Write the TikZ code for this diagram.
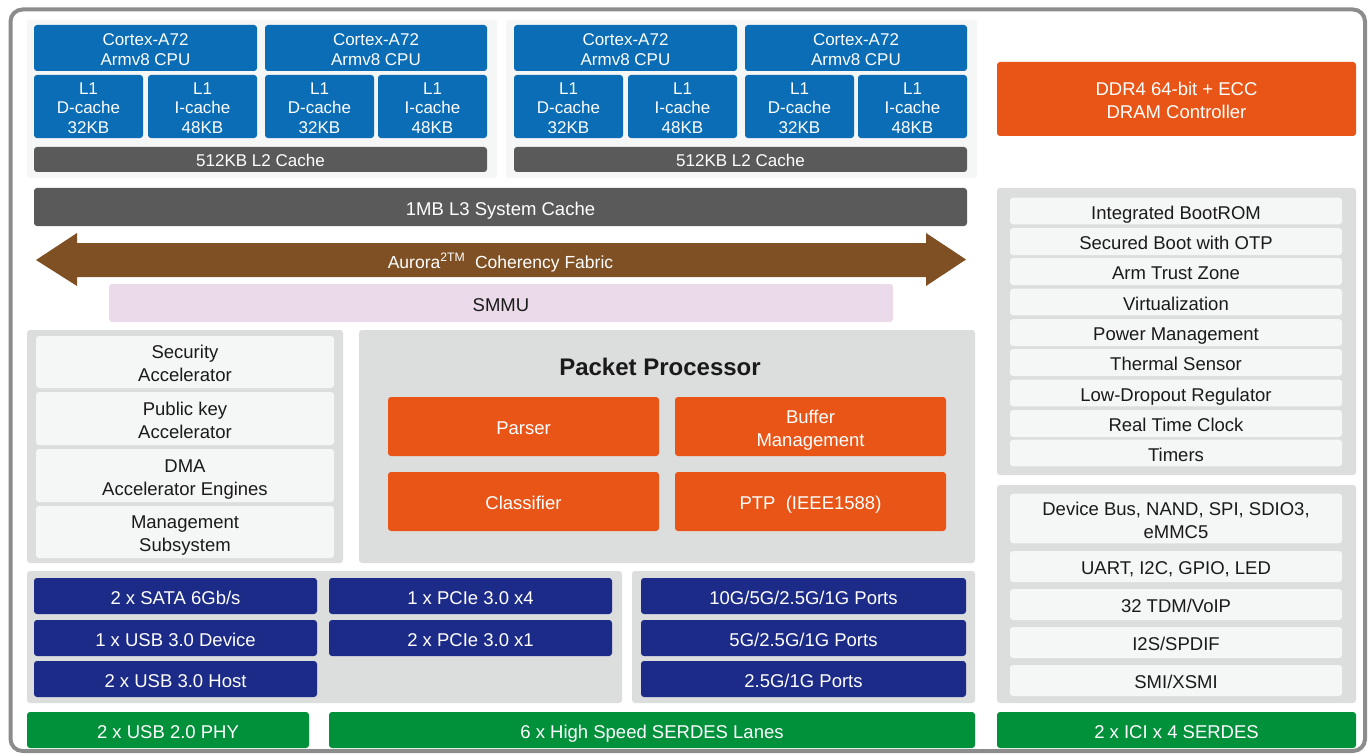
\documentclass[tikz,border=0pt]{standalone}
\usepackage{fontspec}
\setmainfont{Liberation Sans}
\definecolor{cpublue}{HTML}{0A6DB5}
\definecolor{l2gray}{HTML}{5B5A5B}
\definecolor{orng}{HTML}{E85517}
\definecolor{navy}{HTML}{1C2B88}
\definecolor{grn}{HTML}{00913A}
\definecolor{panelgray}{HTML}{DCDDDD}
\definecolor{itemwhite}{HTML}{F5F6F6}
\definecolor{brwn}{HTML}{7E5023}
\definecolor{pinkish}{HTML}{EBDAEA}
\definecolor{framegray}{HTML}{8C8C8C}
\definecolor{txt}{HTML}{1A1A1A}
\newcommand\topstrut{\rule{0pt}{1.16em}}
\newcommand\botstrut{\rule[-0.28em]{0pt}{0.28em}}
\tikzset{
  blk/.style={rounded corners=3pt, inner sep=0pt, outer sep=0pt, align=center,
    text=txt, font=\fontsize{18.5}{23}\selectfont},
  clusterbg/.style={blk, fill=itemwhite},
  cpubox/.style={blk, fill=cpublue, text=white, font=\fontsize{17}{19.3}\selectfont},
  l2box/.style={blk, fill=l2gray, text=white, font=\fontsize{17}{19.3}\selectfont},
  l3box/.style={blk, fill=l2gray, text=white},
  smmubox/.style={blk, fill=pinkish},
  panelbox/.style={blk, fill=panelgray},
  itembox/.style={blk, fill=itemwhite},
  orbox/.style={blk, fill=orng, text=white},
  navybox/.style={blk, fill=navy, text=white},
  grnbox/.style={blk, fill=grn, text=white},
}
\newcommand\bx[7]{\node[#2, minimum width={#5-#3}, minimum height={#6-#4}] (#1) at ({(#3+#5)/2},{(#4+#6)/2}) {\topstrut#7\botstrut};}
\begin{document}
\begin{tikzpicture}[x=1pt,y=-1pt]
\useasboundingbox (0,0) rectangle (1372,754);
\fill[white] (0,0) rectangle (1372,754);
\draw[framegray, line width=4pt, rounded corners=12pt] (10.5,9.5) rectangle (1365,751);
% CPU clusters
\bx{clA}{clusterbg}{27}{20}{497}{178}{}
\bx{clB}{clusterbg}{506}{20}{977}{178}{}
\bx{cpu1}{cpubox}{34}{25}{257}{71}{Cortex-A72\\Armv8 CPU}
\bx{cpu2}{cpubox}{265}{25}{487}{71}{Cortex-A72\\Armv8 CPU}
\bx{cpu3}{cpubox}{514}{25}{737}{71}{Cortex-A72\\Armv8 CPU}
\bx{cpu4}{cpubox}{745}{25}{967}{71}{Cortex-A72\\Armv8 CPU}
\bx{d1}{cpubox}{34}{75}{143}{138}{L1\\D-cache\\32KB}
\bx{i1}{cpubox}{148}{75}{257}{138}{L1\\I-cache\\48KB}
\bx{d2}{cpubox}{265}{75}{374}{138}{L1\\D-cache\\32KB}
\bx{i2}{cpubox}{378}{75}{487}{138}{L1\\I-cache\\48KB}
\bx{d3}{cpubox}{514}{75}{623}{138}{L1\\D-cache\\32KB}
\bx{i3}{cpubox}{628}{75}{737}{138}{L1\\I-cache\\48KB}
\bx{d4}{cpubox}{745}{75}{854}{138}{L1\\D-cache\\32KB}
\bx{i4}{cpubox}{858}{75}{967}{138}{L1\\I-cache\\48KB}
\bx{l2a}{l2box}{34}{147}{487}{172}{512KB L2 Cache}
\bx{l2b}{l2box}{514}{147}{967}{172}{512KB L2 Cache}
\bx{l3}{l3box}{34}{188}{967}{226}{1MB L3 System Cache}
% Fabric arrow
\fill[brwn] (36,260) -- (77,233) -- (77,243) -- (926,243) -- (926,233) -- (966,259.5)
  -- (926,286) -- (926,277) -- (77,277) -- (77,286) -- cycle;
\node[text=white, font=\fontsize{17.5}{20}\selectfont, inner sep=0pt] (fabric) at (500.5,260.5)
  {\topstrut Aurora\textsuperscript{2TM}\ \ Coherency Fabric\botstrut};
\bx{smmu}{smmubox}{109}{284}{893}{322}{SMMU}
% Left accelerators panel
\bx{accp}{panelbox}{27}{330}{343}{563}{}
\bx{sec}{itembox}{36}{336}{334}{388}{Security\\Accelerator}
\bx{pk}{itembox}{36}{392}{334}{445}{Public key\\Accelerator}
\bx{dma}{itembox}{36}{449}{334}{502}{DMA\\Accelerator Engines}
\bx{mgmt}{itembox}{36}{506}{334}{558}{Management\\Subsystem}
% Packet processor
\bx{ppp}{panelbox}{359}{330}{975}{563}{}
\node[font=\fontsize{24}{26}\selectfont\bfseries, text=txt, inner sep=0pt] (pptitle) at (660,365) {\topstrut Packet Processor\botstrut};
\bx{parser}{orbox}{388}{397}{659}{456}{Parser}
\bx{buffer}{orbox}{675}{397}{946}{456}{Buffer\\Management}
\bx{classif}{orbox}{388}{472}{659}{531}{Classifier}
\bx{ptp}{orbox}{675}{472}{946}{531}{PTP\ \ (IEEE1588)}
% Bottom interfaces
\bx{ifA}{panelbox}{27}{571}{622}{703}{}
\bx{sata}{navybox}{34}{578}{317}{614}{2 x SATA 6Gb/s}
\bx{usbd}{navybox}{34}{620}{317}{656}{1 x USB 3.0 Device}
\bx{usbh}{navybox}{34}{661}{317}{697}{2 x USB 3.0 Host}
\bx{pcie4}{navybox}{329}{578}{612}{614}{1 x PCIe 3.0 x4}
\bx{pcie1}{navybox}{329}{620}{612}{656}{2 x PCIe 3.0 x1}
\bx{ifB}{panelbox}{632}{571}{975}{703}{}
\bx{p10}{navybox}{641}{578}{966}{614}{10G/5G/2.5G/1G Ports}
\bx{p5}{navybox}{641}{620}{966}{656}{5G/2.5G/1G Ports}
\bx{p25}{navybox}{641}{661}{966}{697}{2.5G/1G Ports}
\bx{usbphy}{grnbox}{27}{712}{309}{748}{2 x USB 2.0 PHY}
\bx{serdes}{grnbox}{329}{712}{975}{748}{6 x High Speed SERDES Lanes}
\bx{ici}{grnbox}{997}{712}{1356}{748}{2 x ICI x 4 SERDES}
% Right column
\bx{ddr}{orbox}{997}{62}{1356}{136}{DDR4 64-bit + ECC\\DRAM Controller}
\bx{sysp}{panelbox}{997}{188}{1356}{475}{}
\bx{boot}{itembox}{1010}{198}{1342}{224}{Integrated BootROM}
\bx{secb}{itembox}{1010}{228}{1342}{255}{Secured Boot with OTP}
\bx{tz}{itembox}{1010}{258}{1342}{285}{Arm Trust Zone}
\bx{virt}{itembox}{1010}{289}{1342}{315}{Virtualization}
\bx{pwr}{itembox}{1010}{319}{1342}{346}{Power Management}
\bx{therm}{itembox}{1010}{349}{1342}{376}{Thermal Sensor}
\bx{ldo}{itembox}{1010}{380}{1342}{406}{Low-Dropout Regulator}
\bx{rtc}{itembox}{1010}{410}{1342}{437}{Real Time Clock}
\bx{tmr}{itembox}{1010}{440}{1342}{466}{Timers}
\bx{iop}{panelbox}{997}{485}{1356}{703}{}
\bx{devbus}{itembox}{1010}{494}{1342}{543}{Device Bus, NAND, SPI, SDIO3,\\eMMC5}
\bx{uart}{itembox}{1010}{551}{1342}{582}{UART, I2C, GPIO, LED}
\bx{tdm}{itembox}{1010}{589}{1342}{620}{32 TDM/VoIP}
\bx{i2s}{itembox}{1010}{627}{1342}{658}{I2S/SPDIF}
\bx{smi}{itembox}{1010}{665}{1342}{696}{SMI/XSMI}
\end{tikzpicture}
\end{document}
